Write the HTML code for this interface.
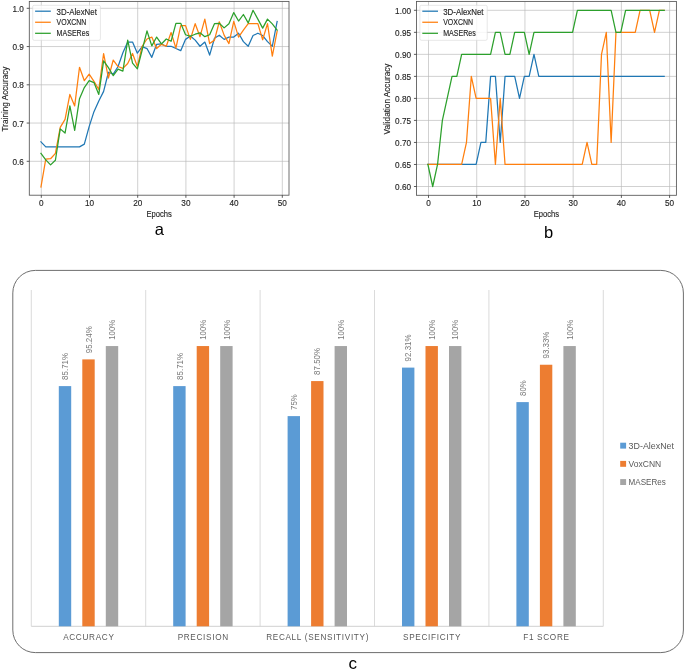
<!DOCTYPE html>
<html><head><meta charset="utf-8"><style>
html,body{margin:0;padding:0;background:#fff;}
body{width:685px;height:670px;overflow:hidden;}
svg{display:block;will-change:transform;font-family:"Liberation Sans",sans-serif;}
.t{font-size:8.2px;fill:#262626;stroke:#262626;stroke-width:0.14px;}
.al{font-size:8.2px;fill:#262626;stroke:#262626;stroke-width:0.14px;}
.big{font-size:16.5px;fill:#000;}
.dl{font-size:8.8px;fill:#7a7a7a;}
.cat{font-size:8.2px;fill:#595959;letter-spacing:0.68px;}
.lg{font-size:8.6px;fill:#595959;}
</style></head><body>
<svg width="685" height="670" viewBox="0 0 685 670">
<rect width="685" height="670" fill="#fff"/>
<path d="M41.3 1.4V195.2M89.5 1.4V195.2M137.7 1.4V195.2M185.9 1.4V195.2M234.1 1.4V195.2M282.3 1.4V195.2M29.3 161.3H289M29.3 123.05H289M29.3 84.8H289M29.3 46.55H289M29.3 8.3H289" stroke="#b8b8b8" stroke-width="0.65" fill="none"/>
<polyline points="40.95,141.88 45.77,146.85 50.59,146.85 55.41,146.85 60.23,146.85 65.05,146.85 69.87,146.85 74.69,146.85 79.51,146.85 84.33,144.17 89.15,126.58 93.97,111.66 98.79,100.95 103.61,91.39 108.43,72.26 113.25,74.17 118.07,66.52 122.89,52.75 127.71,42.04 132.53,42.04 137.35,53.14 142.17,46.63 146.99,48.55 151.81,57.34 156.63,44.34 161.45,43.96 166.27,46.25 171.09,46.25 175.91,48.55 180.73,50.65 185.55,39.37 190.37,35.92 195.19,40.13 200.01,46.25 204.83,42.04 209.65,55.05 214.47,38.22 219.29,35.16 224.11,39.37 228.93,37.07 233.75,37.07 238.57,33.24 243.39,41.66 248.21,46.25 253.03,35.54 257.85,33.24 262.67,35.54 267.49,41.66 272.31,46.25 277.13,21.39" fill="none" stroke="#1f77b4" stroke-width="1.25" stroke-linejoin="round" stroke-linecap="square"/>
<polyline points="40.95,187.01 45.77,159.09 50.59,158.71 55.41,153.35 60.23,127.34 65.05,119.31 69.87,94.45 74.69,105.92 79.51,67.29 84.33,80.67 89.15,74.17 93.97,81.44 98.79,89.47 103.61,53.52 108.43,78 113.25,60.02 118.07,66.52 122.89,68.44 127.71,63.46 132.53,53.52 137.35,66.52 142.17,46.25 146.99,38.98 151.81,37.07 156.63,48.55 161.45,44.34 166.27,46.25 171.09,32.48 175.91,48.16 180.73,25.6 185.55,25.6 190.37,39.37 195.19,23.68 200.01,36.69 204.83,19.09 209.65,43.57 214.47,40.13 219.29,21.77 224.11,35.16 228.93,43.57 233.75,21.39 238.57,37.07 243.39,30.19 248.21,23.68 253.03,23.68 257.85,23.68 262.67,39.75 267.49,23.68 272.31,56.2 277.13,31.33" fill="none" stroke="#ff7f0e" stroke-width="1.25" stroke-linejoin="round" stroke-linecap="square"/>
<polyline points="40.95,153.35 45.77,159.85 50.59,164.83 55.41,160.24 60.23,128.87 65.05,133.08 69.87,105.92 74.69,130.4 79.51,98.65 84.33,87.56 89.15,80.67 93.97,82.59 98.79,94.45 103.61,60.79 108.43,67.67 113.25,75.7 118.07,69.2 122.89,71.11 127.71,40.13 132.53,63.08 137.35,68.82 142.17,50.08 146.99,30.95 151.81,45.87 156.63,37.07 161.45,43.96 166.27,38.98 171.09,41.28 175.91,23.3 180.73,23.3 185.55,34.77 190.37,36.3 195.19,34.2 200.01,32.86 204.83,36.69 209.65,34.77 214.47,23.68 219.29,23.3 224.11,27.89 228.93,23.68 233.75,12.59 238.57,21.01 243.39,14.5 248.21,22.92 253.03,10.3 257.85,19.09 262.67,28.08 267.49,19.09 272.31,23.87 277.13,30.19" fill="none" stroke="#2ca02c" stroke-width="1.25" stroke-linejoin="round" stroke-linecap="square"/>
<rect x="32.7" y="5.3" width="67.7" height="35" rx="1.5" fill="#fff" fill-opacity="0.8" stroke="#d6d6d6" stroke-width="0.6"/>
<path d="M35.1 11.2H50.8" stroke="#1f77b4" stroke-width="1.25"/>
<text x="56.6" y="14.55" class="t" textLength="40.3" lengthAdjust="spacingAndGlyphs">3D-AlexNet</text>
<path d="M35.1 22.25H50.8" stroke="#ff7f0e" stroke-width="1.25"/>
<text x="56.6" y="25.05" class="t" textLength="29.8" lengthAdjust="spacingAndGlyphs">VOXCNN</text>
<path d="M35.1 33.3H50.8" stroke="#2ca02c" stroke-width="1.25"/>
<text x="56.6" y="35.9" class="t" textLength="32.6" lengthAdjust="spacingAndGlyphs">MASERes</text>
<rect x="29.3" y="1.4" width="259.7" height="193.8" fill="none" stroke="#555555" stroke-width="0.85"/>
<path d="M41.3 195.2v2.6M89.5 195.2v2.6M137.7 195.2v2.6M185.9 195.2v2.6M234.1 195.2v2.6M282.3 195.2v2.6M29.3 161.3h-2.6M29.3 123.05h-2.6M29.3 84.8h-2.6M29.3 46.55h-2.6M29.3 8.3h-2.6" stroke="#333" stroke-width="0.8" fill="none"/>
<text x="41.3" y="206" class="t" text-anchor="middle">0</text>
<text x="89.5" y="206" class="t" text-anchor="middle">10</text>
<text x="137.7" y="206" class="t" text-anchor="middle">20</text>
<text x="185.9" y="206" class="t" text-anchor="middle">30</text>
<text x="234.1" y="206" class="t" text-anchor="middle">40</text>
<text x="282.3" y="206" class="t" text-anchor="middle">50</text>
<text x="23.8" y="164.9" class="t" text-anchor="end">0.6</text>
<text x="23.8" y="126.65" class="t" text-anchor="end">0.7</text>
<text x="23.8" y="88.4" class="t" text-anchor="end">0.8</text>
<text x="23.8" y="50.15" class="t" text-anchor="end">0.9</text>
<text x="23.8" y="11.9" class="t" text-anchor="end">1.0</text>
<text x="159.15" y="217.0" class="t" text-anchor="middle" textLength="25.4" lengthAdjust="spacingAndGlyphs">Epochs</text>
<text transform="translate(7.8,99.0) rotate(-90)" class="al" text-anchor="middle">Training Accuracy</text>
<text x="159.3" y="234.8" class="big" text-anchor="middle">a</text>
<path d="M428.5 1.4V195.3M476.72 1.4V195.3M524.94 1.4V195.3M573.16 1.4V195.3M621.38 1.4V195.3M669.6 1.4V195.3M416.55 186.5H676.4M416.55 164.47H676.4M416.55 142.45H676.4M416.55 120.42H676.4M416.55 98.4H676.4M416.55 76.38H676.4M416.55 54.35H676.4M416.55 32.33H676.4M416.55 10.3H676.4" stroke="#b8b8b8" stroke-width="0.65" fill="none"/>
<polyline points="427.9,164.47 432.72,164.47 437.54,164.47 442.37,164.47 447.19,164.47 452.01,164.47 456.83,164.47 461.65,164.47 466.48,164.47 471.3,164.47 476.12,164.47 480.94,142.45 485.76,142.45 490.59,76.38 495.41,76.38 500.23,142.45 505.05,76.38 509.87,76.38 514.7,76.38 519.52,98.4 524.34,76.38 529.16,76.38 533.98,54.35 538.81,76.38 543.63,76.38 548.45,76.38 553.27,76.38 558.09,76.38 562.92,76.38 567.74,76.38 572.56,76.38 577.38,76.38 582.2,76.38 587.03,76.38 591.85,76.38 596.67,76.38 601.49,76.38 606.31,76.38 611.14,76.38 615.96,76.38 620.78,76.38 625.6,76.38 630.42,76.38 635.25,76.38 640.07,76.38 644.89,76.38 649.71,76.38 654.53,76.38 659.36,76.38 664.18,76.38" fill="none" stroke="#1f77b4" stroke-width="1.25" stroke-linejoin="round" stroke-linecap="square"/>
<polyline points="427.9,164.47 432.72,164.47 437.54,164.47 442.37,164.47 447.19,164.47 452.01,164.47 456.83,164.47 461.65,164.47 466.48,142.45 471.3,76.38 476.12,98.4 480.94,98.4 485.76,98.4 490.59,98.4 495.41,164.47 500.23,98.4 505.05,164.47 509.87,164.47 514.7,164.47 519.52,164.47 524.34,164.47 529.16,164.47 533.98,164.47 538.81,164.47 543.63,164.47 548.45,164.47 553.27,164.47 558.09,164.47 562.92,164.47 567.74,164.47 572.56,164.47 577.38,164.47 582.2,164.47 587.03,142.45 591.85,164.47 596.67,164.47 601.49,54.35 606.31,32.33 611.14,142.45 615.96,32.33 620.78,32.33 625.6,32.33 630.42,32.33 635.25,32.33 640.07,10.3 644.89,10.3 649.71,10.3 654.53,32.33 659.36,10.3 664.18,10.3" fill="none" stroke="#ff7f0e" stroke-width="1.25" stroke-linejoin="round" stroke-linecap="square"/>
<polyline points="427.9,164.47 432.72,186.5 437.54,164.47 442.37,120.42 447.19,98.4 452.01,76.38 456.83,76.38 461.65,54.35 466.48,54.35 471.3,54.35 476.12,54.35 480.94,54.35 485.76,54.35 490.59,54.35 495.41,32.33 500.23,32.33 505.05,54.35 509.87,54.35 514.7,32.33 519.52,32.33 524.34,32.33 529.16,54.35 533.98,32.33 538.81,32.33 543.63,32.33 548.45,32.33 553.27,32.33 558.09,32.33 562.92,32.33 567.74,32.33 572.56,32.33 577.38,10.3 582.2,10.3 587.03,10.3 591.85,10.3 596.67,10.3 601.49,10.3 606.31,10.3 611.14,10.3 615.96,32.33 620.78,32.33 625.6,10.3 630.42,10.3 635.25,10.3 640.07,10.3 644.89,10.3 649.71,10.3 654.53,10.3 659.36,10.3 664.18,10.3" fill="none" stroke="#2ca02c" stroke-width="1.25" stroke-linejoin="round" stroke-linecap="square"/>
<rect x="419.9" y="5.3" width="67.3" height="35" rx="1.5" fill="#fff" fill-opacity="0.8" stroke="#d6d6d6" stroke-width="0.6"/>
<path d="M422.3 11.2H438" stroke="#1f77b4" stroke-width="1.25"/>
<text x="443.2" y="14.55" class="t" textLength="40.3" lengthAdjust="spacingAndGlyphs">3D-AlexNet</text>
<path d="M422.3 22.25H438" stroke="#ff7f0e" stroke-width="1.25"/>
<text x="443.2" y="25.05" class="t" textLength="29.8" lengthAdjust="spacingAndGlyphs">VOXCNN</text>
<path d="M422.3 33.3H438" stroke="#2ca02c" stroke-width="1.25"/>
<text x="443.2" y="35.9" class="t" textLength="32.6" lengthAdjust="spacingAndGlyphs">MASERes</text>
<rect x="416.55" y="1.4" width="259.85" height="193.9" fill="none" stroke="#555555" stroke-width="0.85"/>
<path d="M428.5 195.3v2.6M476.72 195.3v2.6M524.94 195.3v2.6M573.16 195.3v2.6M621.38 195.3v2.6M669.6 195.3v2.6M416.55 186.5h-2.6M416.55 164.47h-2.6M416.55 142.45h-2.6M416.55 120.42h-2.6M416.55 98.4h-2.6M416.55 76.38h-2.6M416.55 54.35h-2.6M416.55 32.33h-2.6M416.55 10.3h-2.6" stroke="#333" stroke-width="0.8" fill="none"/>
<text x="428.5" y="206.1" class="t" text-anchor="middle">0</text>
<text x="476.72" y="206.1" class="t" text-anchor="middle">10</text>
<text x="524.94" y="206.1" class="t" text-anchor="middle">20</text>
<text x="573.16" y="206.1" class="t" text-anchor="middle">30</text>
<text x="621.38" y="206.1" class="t" text-anchor="middle">40</text>
<text x="669.6" y="206.1" class="t" text-anchor="middle">50</text>
<text x="411.05" y="190.1" class="t" text-anchor="end">0.60</text>
<text x="411.05" y="168.07" class="t" text-anchor="end">0.65</text>
<text x="411.05" y="146.05" class="t" text-anchor="end">0.70</text>
<text x="411.05" y="124.02" class="t" text-anchor="end">0.75</text>
<text x="411.05" y="102" class="t" text-anchor="end">0.80</text>
<text x="411.05" y="79.97" class="t" text-anchor="end">0.85</text>
<text x="411.05" y="57.95" class="t" text-anchor="end">0.90</text>
<text x="411.05" y="35.93" class="t" text-anchor="end">0.95</text>
<text x="411.05" y="13.9" class="t" text-anchor="end">1.00</text>
<text x="546.48" y="217.0" class="t" text-anchor="middle" textLength="25.4" lengthAdjust="spacingAndGlyphs">Epochs</text>
<text transform="translate(389.9,99.0) rotate(-90)" class="al" text-anchor="middle">Validation Accuracy</text>
<text x="548.5" y="237.6" class="big" text-anchor="middle">b</text>
<path d="M35.3 270.4H660.8A22.6 22.6 0 0 1 683.4 293V630A22.6 22.6 0 0 1 660.8 652.6H35.3A22.5 22.5 0 0 1 12.8 630.1V292.9A22.5 22.5 0 0 1 35.3 270.4Z" fill="#fff" stroke="#6e6e6e" stroke-width="1"/>
<path d="M31.3 290.0V626.3M145.7 290.0V626.3M260.1 290.0V626.3M374.5 290.0V626.3M488.9 290.0V626.3M603.3 290.0V626.3" stroke="#d2d2d2" stroke-width="0.8" fill="none"/>
<path d="M31.3 626.3H603.3" stroke="#d0d0d0" stroke-width="1" fill="none"/>
<rect x="58.8" y="386.1" width="12.4" height="240.2" fill="#5b9bd5"/>
<text transform="translate(68.15,379.9) rotate(-90)" class="dl" textLength="26.96" lengthAdjust="spacingAndGlyphs">85.71%</text>
<rect x="82.3" y="359.39" width="12.4" height="266.91" fill="#ed7d31"/>
<text transform="translate(91.65,353.19) rotate(-90)" class="dl" textLength="26.96" lengthAdjust="spacingAndGlyphs">95.24%</text>
<rect x="105.8" y="346.05" width="12.4" height="280.25" fill="#a5a5a5"/>
<text transform="translate(115.15,339.85) rotate(-90)" class="dl" textLength="20.12" lengthAdjust="spacingAndGlyphs">100%</text>
<text x="88.84" y="640.3" class="cat" text-anchor="middle">ACCURACY</text>
<rect x="173.2" y="386.1" width="12.4" height="240.2" fill="#5b9bd5"/>
<text transform="translate(182.55,379.9) rotate(-90)" class="dl" textLength="26.96" lengthAdjust="spacingAndGlyphs">85.71%</text>
<rect x="196.7" y="346.05" width="12.4" height="280.25" fill="#ed7d31"/>
<text transform="translate(206.05,339.85) rotate(-90)" class="dl" textLength="20.12" lengthAdjust="spacingAndGlyphs">100%</text>
<rect x="220.2" y="346.05" width="12.4" height="280.25" fill="#a5a5a5"/>
<text transform="translate(229.55,339.85) rotate(-90)" class="dl" textLength="20.12" lengthAdjust="spacingAndGlyphs">100%</text>
<text x="203.24" y="640.3" class="cat" text-anchor="middle">PRECISION</text>
<rect x="287.6" y="416.11" width="12.4" height="210.19" fill="#5b9bd5"/>
<text transform="translate(296.95,409.91) rotate(-90)" class="dl" textLength="15.56" lengthAdjust="spacingAndGlyphs">75%</text>
<rect x="311.1" y="381.08" width="12.4" height="245.22" fill="#ed7d31"/>
<text transform="translate(320.45,374.88) rotate(-90)" class="dl" textLength="26.96" lengthAdjust="spacingAndGlyphs">87.50%</text>
<rect x="334.6" y="346.05" width="12.4" height="280.25" fill="#a5a5a5"/>
<text transform="translate(343.95,339.85) rotate(-90)" class="dl" textLength="20.12" lengthAdjust="spacingAndGlyphs">100%</text>
<text x="317.64" y="640.3" class="cat" text-anchor="middle">RECALL (SENSITIVITY)</text>
<rect x="402" y="367.6" width="12.4" height="258.7" fill="#5b9bd5"/>
<text transform="translate(411.35,361.4) rotate(-90)" class="dl" textLength="26.96" lengthAdjust="spacingAndGlyphs">92.31%</text>
<rect x="425.5" y="346.05" width="12.4" height="280.25" fill="#ed7d31"/>
<text transform="translate(434.85,339.85) rotate(-90)" class="dl" textLength="20.12" lengthAdjust="spacingAndGlyphs">100%</text>
<rect x="449" y="346.05" width="12.4" height="280.25" fill="#a5a5a5"/>
<text transform="translate(458.35,339.85) rotate(-90)" class="dl" textLength="20.12" lengthAdjust="spacingAndGlyphs">100%</text>
<text x="432.04" y="640.3" class="cat" text-anchor="middle">SPECIFICITY</text>
<rect x="516.4" y="402.1" width="12.4" height="224.2" fill="#5b9bd5"/>
<text transform="translate(525.75,395.9) rotate(-90)" class="dl" textLength="15.56" lengthAdjust="spacingAndGlyphs">80%</text>
<rect x="539.9" y="364.74" width="12.4" height="261.56" fill="#ed7d31"/>
<text transform="translate(549.25,358.54) rotate(-90)" class="dl" textLength="26.96" lengthAdjust="spacingAndGlyphs">93.33%</text>
<rect x="563.4" y="346.05" width="12.4" height="280.25" fill="#a5a5a5"/>
<text transform="translate(572.75,339.85) rotate(-90)" class="dl" textLength="20.12" lengthAdjust="spacingAndGlyphs">100%</text>
<text x="546.44" y="640.3" class="cat" text-anchor="middle">F1 SCORE</text>
<rect x="620.2" y="442.7" width="5.9" height="5.9" fill="#5b9bd5"/>
<text x="628.6" y="448.8" class="lg" textLength="45.4" lengthAdjust="spacingAndGlyphs">3D-AlexNet</text>
<rect x="620.2" y="460.9" width="5.9" height="5.9" fill="#ed7d31"/>
<text x="628.6" y="467" class="lg" textLength="32.6" lengthAdjust="spacingAndGlyphs">VoxCNN</text>
<rect x="620.2" y="479.1" width="5.9" height="5.9" fill="#a5a5a5"/>
<text x="628.6" y="485.2" class="lg" textLength="37.2" lengthAdjust="spacingAndGlyphs">MASERes</text>
<text x="352.7" y="668.9" class="big" text-anchor="middle" style="font-size:17px">c</text>
</svg>
</body></html>
